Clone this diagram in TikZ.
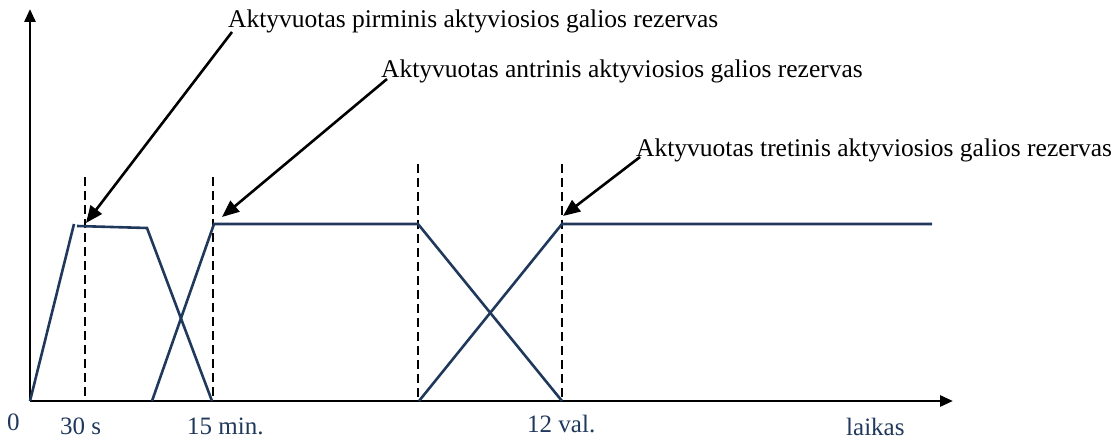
\documentclass[tikz,border=0pt]{standalone}
\usepackage{fontspec}
\setmainfont{Liberation Serif}
\usetikzlibrary{arrows.meta}
\definecolor{navy}{RGB}{31,56,92}
\begin{document}
\begin{tikzpicture}[x=1pt,y=-1pt,
  axisline/.style={line width=2.7pt,-{Triangle[length=13pt,width=11pt]}},
  curve/.style={line width=2.6pt,navy,line join=miter},
  guide/.style={line width=2.2pt,dash pattern=on 9pt off 5pt},
  pointer/.style={line width=2.6pt,-{Triangle[length=17pt,width=14pt]}},
  title/.style={inner sep=0pt,anchor=base west,font=\fontsize{25.5}{30}\selectfont},
  tick/.style={inner sep=0pt,anchor=base west,text=navy,font=\fontsize{25}{30}\selectfont}]
\useasboundingbox (0,0) rectangle (1119,441);
% axes
\coordinate (O) at (30,401);
\coordinate (Ytop) at (30,9);
\coordinate (Xend) at (953,401);
\draw[axisline] (O) -- (Ytop);
\draw[axisline] (O) -- (Xend);
% guides
\foreach \n/\x/\t in {g1/85/177,g2/213/177,g3/418/164,g4/562/164}{
  \coordinate (\n t) at (\x,\t);
  \coordinate (\n b) at (\x,401);
  \draw[guide] (\n t) -- (\n b);
}
% curves
\coordinate (a1) at (74,224);
\coordinate (a2) at (77,226);
\coordinate (a3) at (147,228);
\coordinate (a4) at (212,401);
\draw[curve] (O) -- (a1);
\draw[curve] (a2) -- (a3) -- (a4);
\coordinate (b0) at (152,401);
\coordinate (b1) at (214,224);
\coordinate (b2) at (418,224);
\coordinate (b3) at (562,401);
\draw[curve] (b0) -- (b1) -- (b2) -- (b3);
\coordinate (c0) at (419,401);
\coordinate (c1) at (562,224);
\coordinate (c2) at (932,224);
\draw[curve] (c0) -- (c1) -- (c2);
% titles
\node[title] (t1) at (228,28) {Aktyvuotas pirminis aktyviosios galios rezervas};
\node[title] (t2) at (381,78) {Aktyvuotas antrinis aktyviosios galios rezervas};
\node[title] (t3) at (636,157) {Aktyvuotas tretinis aktyviosios galios rezervas};
\coordinate (s1) at (232,32);
\coordinate (s2) at (387,79);
\coordinate (s3) at (640,157);
\coordinate (e1) at (86,223);
\coordinate (e2) at (222,217);
\coordinate (e3) at (563,216);
\draw[pointer] (s1) -- (e1);
\draw[pointer] (s2) -- (e2);
\draw[pointer] (s3) -- (e3);
% tick labels
\node[tick] (l0) at (7,430) {0};
\node[tick] (l1) at (60,434) {30 s};
\node[tick] (l2) at (187,434) {15 min.};
\node[tick] (l3) at (527,432) {12 val.};
\node[tick] (l4) at (846,435) {laikas};
\end{tikzpicture}
\end{document}
